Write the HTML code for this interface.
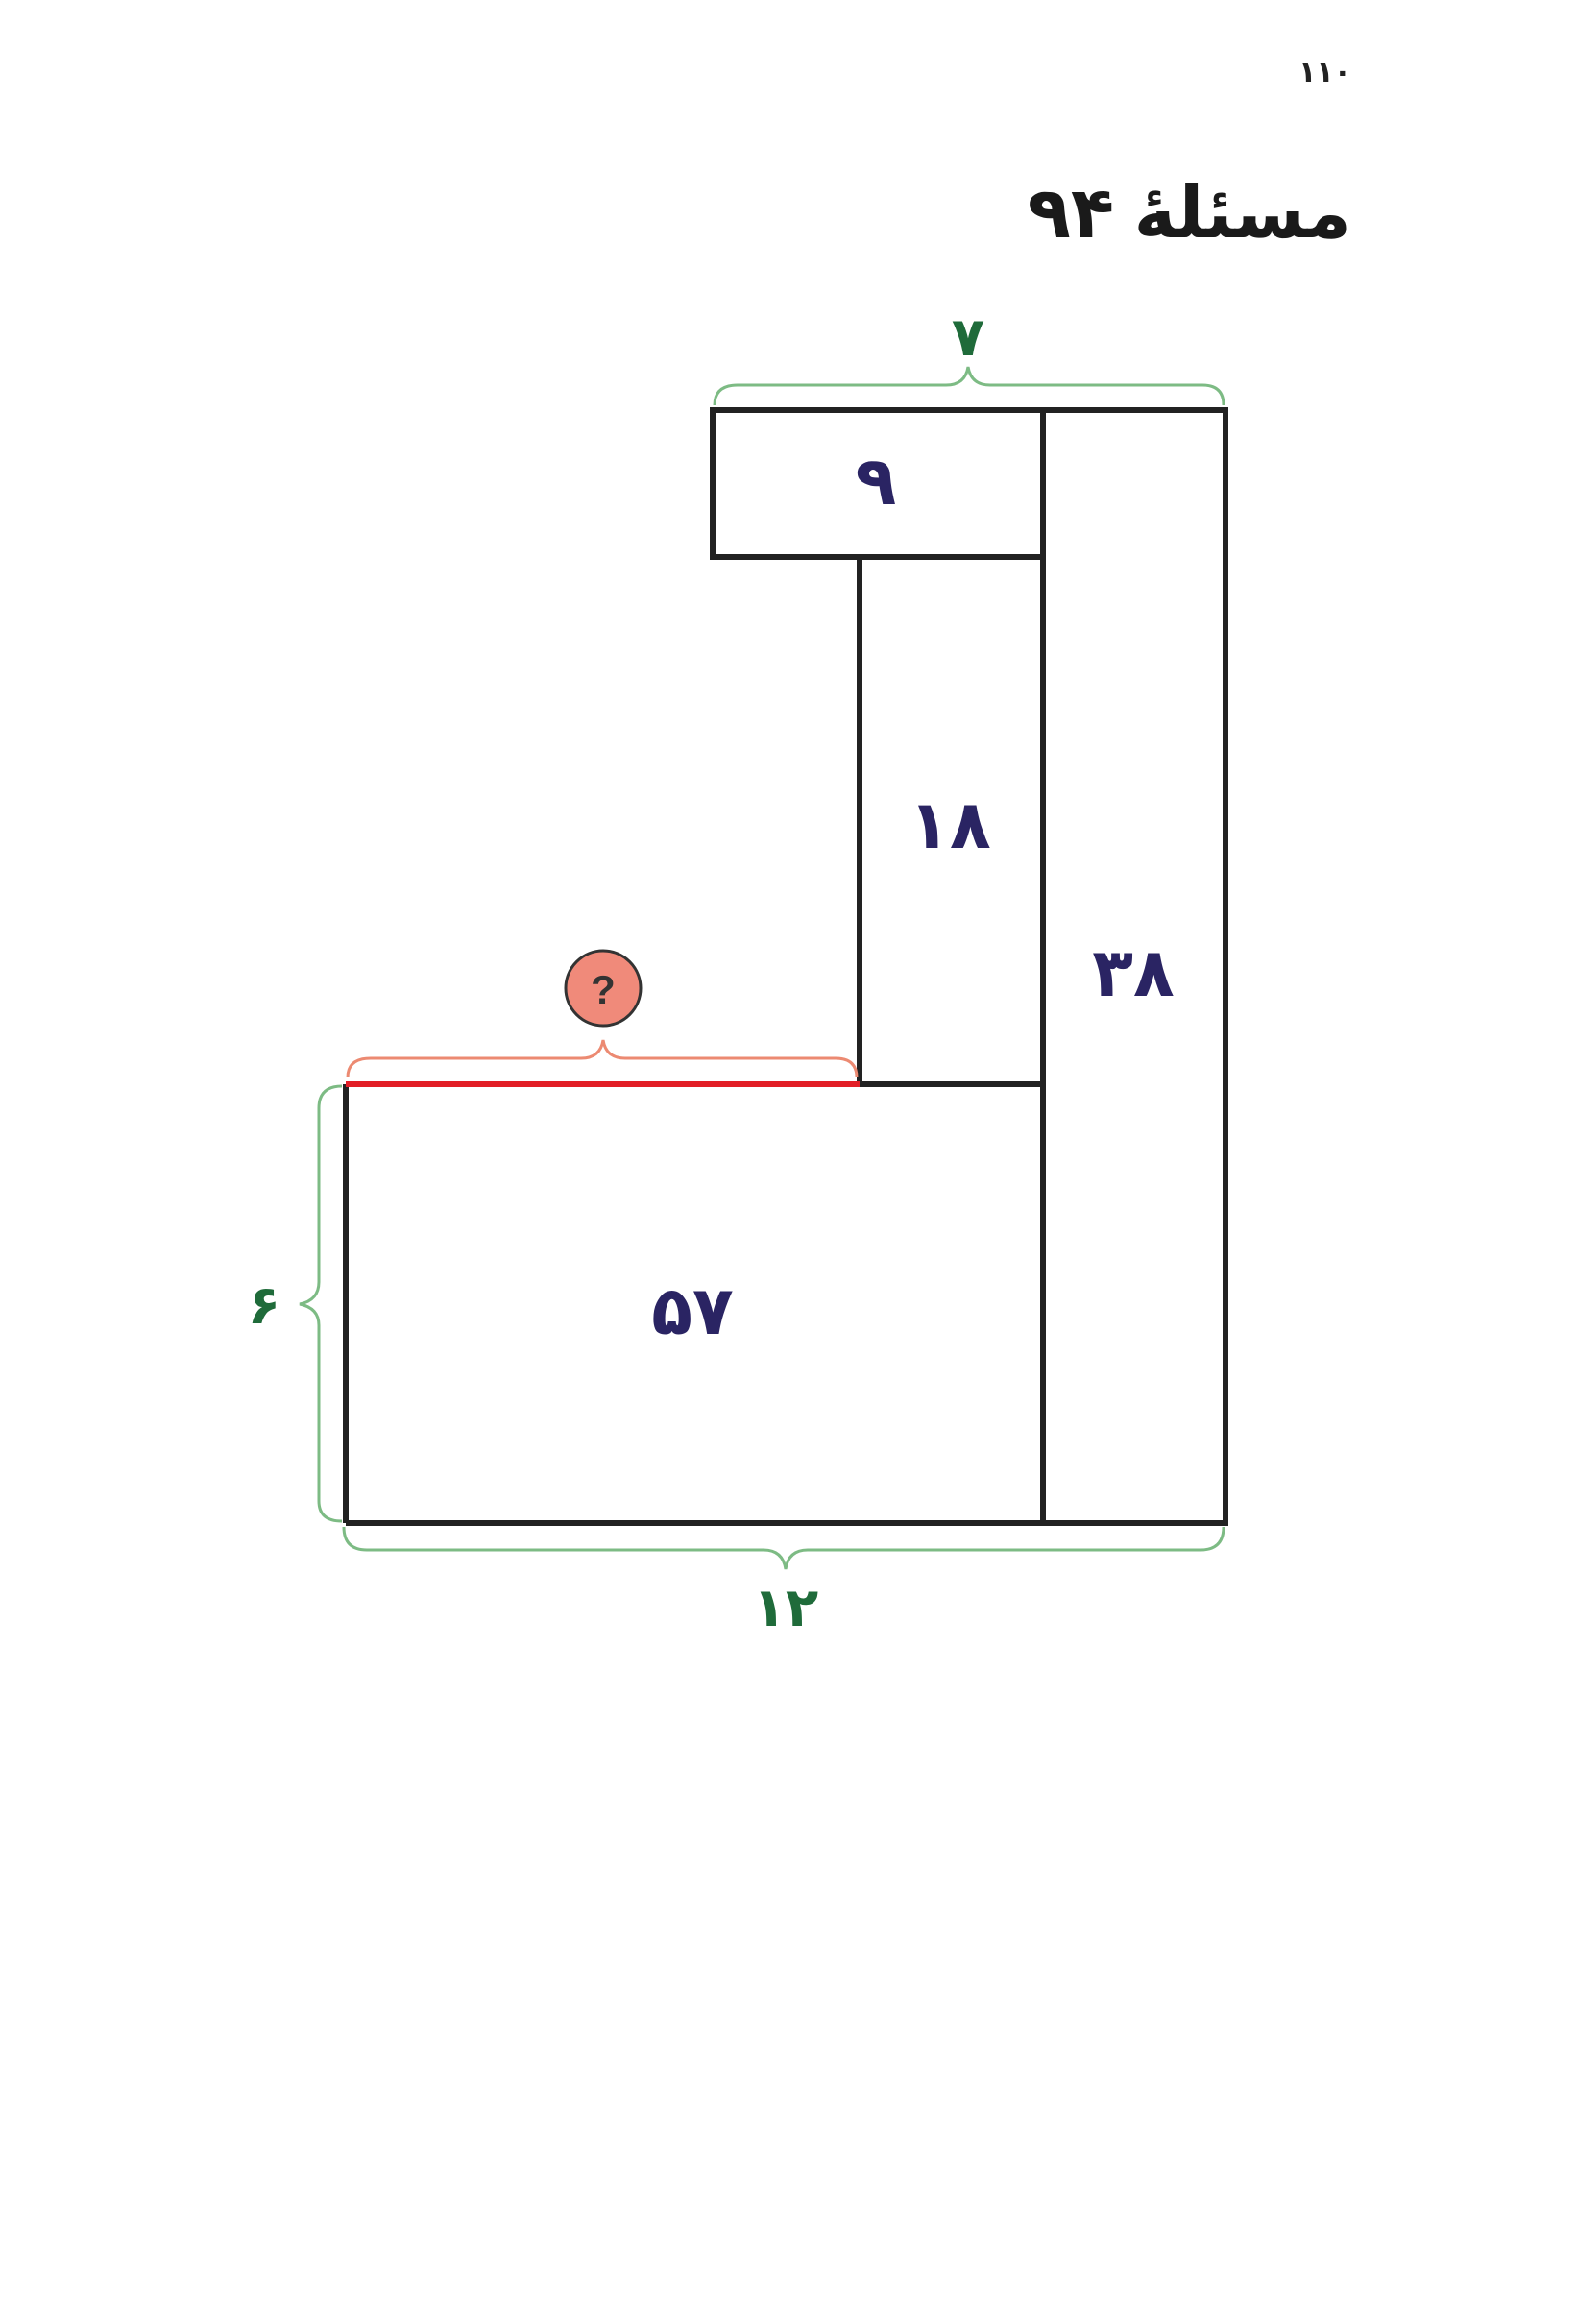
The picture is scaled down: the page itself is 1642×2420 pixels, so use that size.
<!DOCTYPE html>
<html><head><meta charset="utf-8"><style>
html,body{margin:0;padding:0;background:#fff;}
svg{display:block;}
text{font-family:"Liberation Sans","DejaVu Sans",sans-serif;font-weight:bold;}
</style></head><body>
<svg width="1642" height="2420" viewBox="0 0 1642 2420" xmlns="http://www.w3.org/2000/svg">
<text x="1407" y="85" font-size="30" font-weight="normal" text-anchor="start" direction="rtl" fill="#222">۱۱۰</text>
<text x="1407" y="247" font-size="74" text-anchor="start" fill="#1a1a1a" direction="rtl">مسئلهٔ ۹۴</text>

<g fill="none" stroke="#222" stroke-width="6">
<rect x="742" y="427" width="534" height="1159"/>
<line x1="1086" y1="427" x2="1086" y2="1586"/>
<line x1="742" y1="580" x2="1086" y2="580"/>
<line x1="895" y1="580" x2="895" y2="1129"/>
<line x1="895" y1="1129" x2="1086" y2="1129"/>
<line x1="360" y1="1129" x2="360" y2="1586"/>
<line x1="360" y1="1586" x2="742" y2="1586"/>
</g>
<rect x="738" y="583" width="154" height="1000" fill="#fff"/>
<line x1="895" y1="580" x2="895" y2="1132" stroke="#222" stroke-width="6"/>
<line x1="360" y1="1129" x2="895" y2="1129" stroke="#e21e26" stroke-width="6"/>

<g fill="none" stroke="#7dbb84" stroke-width="3">
<path d="M744,422 Q744,401 768,401 L985,401 Q1005,401 1008,382 Q1011,401 1031,401 L1252,401 Q1274,401 1274,422"/>
<path d="M358,1590 Q358,1614 382,1614 L795,1614 Q815,1614 818,1634 Q821,1614 841,1614 L1250,1614 Q1274,1614 1274,1590"/>
<path d="M356,1131 Q332,1131 332,1154 L332,1335 Q332,1354 312,1358 Q332,1362 332,1380 L332,1563 Q332,1584 356,1584"/>
</g>
<path d="M362,1122 Q362,1102 386,1102 L605,1102 Q625,1102 628,1083 Q631,1102 651,1102 L870,1102 Q892,1102 892,1122" fill="none" stroke="#ec8a72" stroke-width="3"/>
<circle cx="628" cy="1029" r="39" fill="#f08a7a" stroke="#333" stroke-width="3"/>
<text x="628" y="1045" font-size="42" font-weight="normal" text-anchor="middle" fill="#333" font-family="Liberation Serif">?</text>

<g fill="#1f6b3a" font-size="56" text-anchor="middle">
<text x="1008" y="370">۷</text>
<text x="275" y="1378">۶</text>
<text x="818" y="1693">۱۲</text>
</g>
<g fill="#2a2463" font-size="70" text-anchor="middle">
<text x="912" y="525">۹</text>
<text x="989" y="883">۱۸</text>
<text x="1180" y="1037">۳۸</text>
<text x="721" y="1389">۵۷</text>
</g>
</svg>
</body></html>
